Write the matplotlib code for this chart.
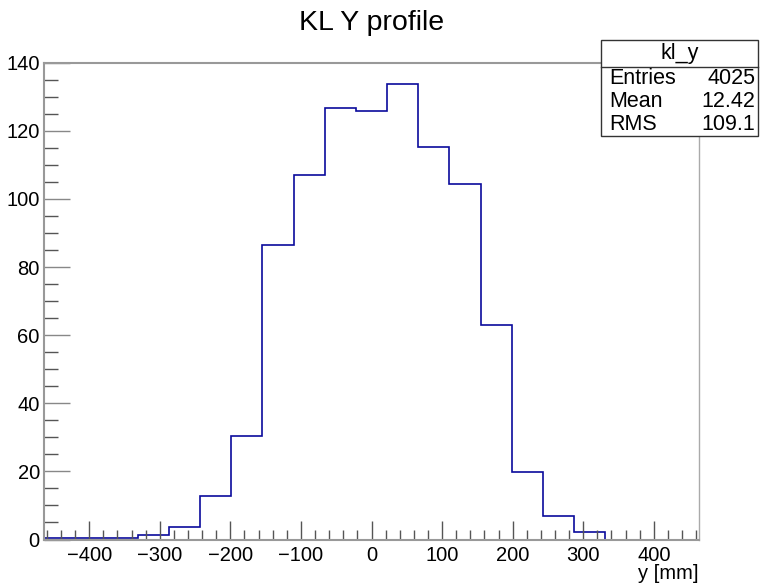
import numpy as np
import matplotlib.pyplot as plt
from matplotlib.ticker import MultipleLocator

plt.rcParams.update(
    {
        "font.family": ["Liberation Sans", "DejaVu Sans"],
        "font.size": 14,
    }
)

# histogram kl_y: 21 bins between -464 and 464 mm
x_min, x_max, n_bins = -464.0, 464.0, 21
counts = [0.3, 0.3, 0.3, 1.3, 3.7, 12.9, 30.4, 86.5, 107.1, 126.6, 125.9,
          133.7, 115.3, 104.3, 63.0, 19.8, 6.9, 2.2, 0.0, 0.0, 0.0]
stats_name = "kl_y"
stats_labels = ["Entries", "Mean", "RMS"]
stats_values = ["4025", "12.42", "109.1"]

edges = np.linspace(x_min, x_max, n_bins + 1)

fig = plt.figure(figsize=(7.63, 5.83), dpi=100)
ax = fig.add_axes([44 / 763, 43.5 / 583, 655 / 763, 476.8 / 583])

ax.stairs(counts, edges, color="#0b0b9c", linewidth=1.2, baseline=None)

ax.set_xlim(x_min, x_max)
ax.set_ylim(0, 140)

ax.xaxis.set_major_locator(MultipleLocator(100))
ax.xaxis.set_minor_locator(MultipleLocator(20))
ax.yaxis.set_major_locator(MultipleLocator(20))
ax.yaxis.set_minor_locator(MultipleLocator(5))

ax.tick_params(axis="x", which="major", direction="in", length=14, width=1,
               color="#555555", labelsize=14.5, pad=5)
ax.tick_params(axis="x", which="minor", direction="in", length=7, width=1,
               color="#555555")
ax.tick_params(axis="y", which="major", direction="in", length=19, width=1,
               color="#888888", labelsize=14.5, pad=3)
ax.tick_params(axis="y", which="minor", direction="in", length=10, width=1,
               color="#555555")

for side in ["left", "bottom", "top"]:
    ax.spines[side].set_color("#999999")
    ax.spines[side].set_linewidth(1.5)
ax.spines["right"].set_color("#aaaaaa")
ax.spines["right"].set_linewidth(1.0)

ax.set_xlabel("y [mm]", fontsize=14.5, loc="right", labelpad=-1)
fig.text(372 / 763, 1 - 23 / 583, "KL Y profile", ha="center", va="center",
         fontsize=20.5)

# stats box
bx0, bx1 = 601 / 763, 758 / 763
by0, by1 = 1 - 136 / 583, 1 - 40 / 583
hy = 1 - 66.5 / 583
box = plt.Rectangle((bx0, by0), bx1 - bx0, by1 - by0, transform=fig.transFigure,
                    facecolor="white", edgecolor="#333333", linewidth=1, zorder=5)
fig.patches.append(box)
fig.add_artist(plt.Line2D([bx0, bx1], [hy, hy], transform=fig.transFigure,
                          color="#333333", linewidth=1, zorder=6))
fig.text((bx0 + bx1) / 2, (hy + by1) / 2, stats_name, ha="center", va="center",
         fontsize=15.5, zorder=7)
row_h = (hy - by0) / len(stats_labels)
for i, (lab, val) in enumerate(zip(stats_labels, stats_values)):
    yc = hy - row_h * (i + 0.5)
    fig.text(609 / 763, yc, lab, ha="left", va="center", fontsize=15.5, zorder=7)
    fig.text(755 / 763, yc, val, ha="right", va="center", fontsize=15.5, zorder=7)

fig.savefig("out.png", dpi=100)
